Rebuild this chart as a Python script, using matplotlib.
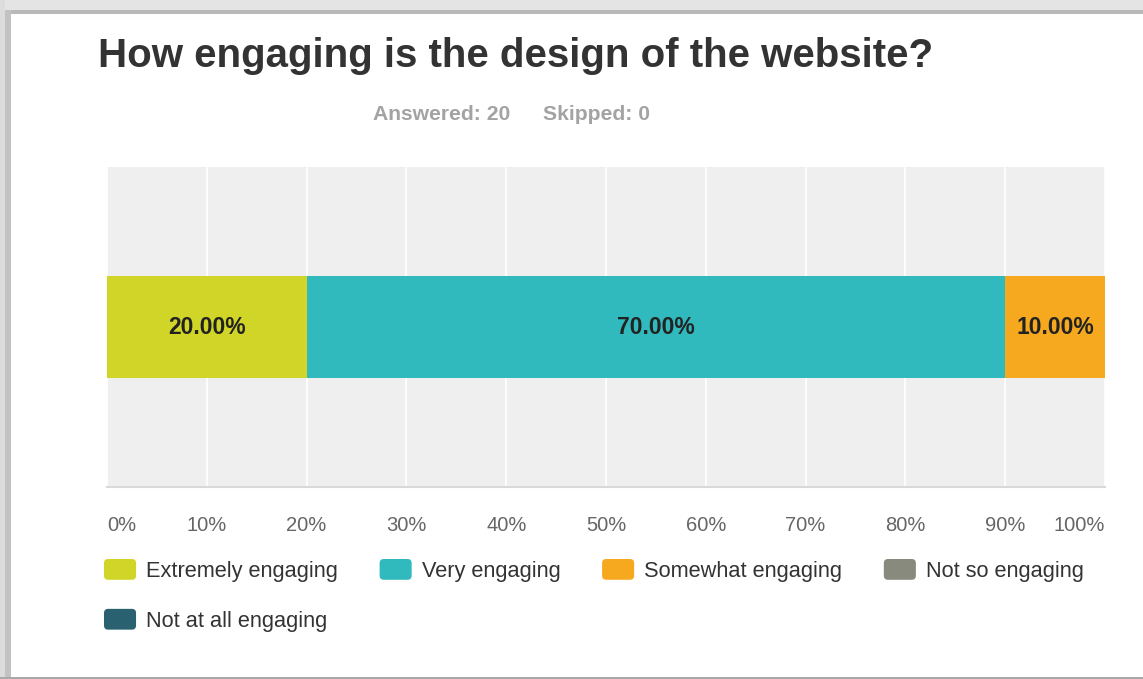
import matplotlib.pyplot as plt
from matplotlib.patches import Patch, Rectangle, FancyBboxPatch
from matplotlib.legend_handler import HandlerPatch

plt.rcParams['font.family'] = ['Liberation Sans', 'DejaVu Sans']

# data
categories = ['Extremely engaging', 'Very engaging', 'Somewhat engaging',
              'Not so engaging', 'Not at all engaging']
percent = [20.0, 70.0, 10.0, 0.0, 0.0]
colors = ['#d0d527', '#30babd', '#f6a91f', '#878a7c', '#2a6171']
ticks = [0, 10, 20, 30, 40, 50, 60, 70, 80, 90, 100]
tick_labels = [f'{t}%' for t in ticks]
title = 'How engaging is the design of the website?'
answered = 'Answered: 20'
skipped = 'Skipped: 0'

W, H = 1143, 679
fig = plt.figure(figsize=(W / 100, H / 100), dpi=100)
fig.patch.set_facecolor('white')

# screenshot frame (top and left gray border, bottom line)
fig.add_artist(Rectangle((0, 1 - 10 / H), 1, 10 / H, transform=fig.transFigure,
                         color='#e4e4e4', lw=0))
fig.add_artist(Rectangle((0, 1 - 14 / H), 1, 4 / H, transform=fig.transFigure,
                         color='#b9b9b9', lw=0))
fig.add_artist(Rectangle((0, 0), 5 / W, 1, transform=fig.transFigure,
                         color='#dcdcdc', lw=0))
fig.add_artist(Rectangle((5 / W, 0), 6 / W, 1 - 10 / H, transform=fig.transFigure,
                         color='#c2c2c2', lw=0))
fig.add_artist(Rectangle((0, 0), 1, 2 / H, transform=fig.transFigure,
                         color='#a8a8a8', lw=0))

# plot area
ax = fig.add_axes([107 / W, 1 - 487 / H, (1105 - 107) / W, (487 - 167) / H])
ax.set_facecolor('#efefef')

left = 0
for cat, val, col in zip(categories, percent, colors):
    ax.barh(0, val, left=left, height=0.64, color=col, lw=0, zorder=3, label=cat)
    if val > 0:
        ax.text(left + val / 2, 0, f'{val:.2f}%', ha='center', va='center',
                fontsize=16.5, fontweight='bold', color='#222222', zorder=4)
    left += val

ax.set_xlim(0, 100)
ax.set_ylim(-1, 1)
ax.set_yticks([])
ax.set_xticks(ticks)
ax.set_xticklabels(tick_labels, fontsize=14.5, color='#666666')
labs = ax.get_xticklabels()
labs[0].set_ha('left')
labs[-1].set_ha('right')
ax.tick_params(axis='x', length=0, pad=21)
ax.grid(axis='x', color='white', lw=1.2, zorder=1)
for s in ['top', 'left', 'right']:
    ax.spines[s].set_visible(False)
ax.spines['bottom'].set_color('#d9d9d9')
ax.spines['bottom'].set_linewidth(1.5)

# titles
fig.text(98 / W, 1 - 67 / H, title, fontsize=29, fontweight='bold',
         color='#333333', ha='left', va='baseline')
fig.text(373 / W, 1 - 120 / H, answered, fontsize=15.2, fontweight='bold',
         color='#a3a3a3', ha='left', va='baseline')
fig.text(543 / W, 1 - 120 / H, skipped, fontsize=15.2, fontweight='bold',
         color='#a3a3a3', ha='left', va='baseline')


# rounded legend swatches
class RoundSwatch(HandlerPatch):
    def create_artists(self, legend, orig_handle, xdescent, ydescent,
                       width, height, fontsize, trans):
        p = FancyBboxPatch((-xdescent, -ydescent), width, height,
                           boxstyle='round,pad=0,rounding_size=3',
                           facecolor=orig_handle.get_facecolor(), lw=0,
                           transform=trans)
        return [p]


# legend: column-major order so the 5th item wraps under the first
order = [0, 4, 1, 2, 3]
handles = [Patch(facecolor=colors[i], edgecolor='none', label=categories[i]) for i in order]
fig.legend(handles=handles, loc='upper left', bbox_to_anchor=(104 / W, 1 - 559 / H),
           ncol=4, frameon=False, fontsize=15.7, borderpad=0, borderaxespad=0,
           handlelength=1.47, handleheight=1.09, handletextpad=0.47,
           columnspacing=1.9, labelspacing=1.24, labelcolor='#333333',
           handler_map={Patch: RoundSwatch()})

fig.savefig('out.png', dpi=100)
